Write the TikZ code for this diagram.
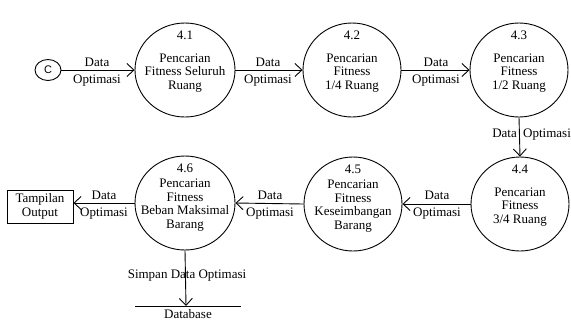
\documentclass[tikz,border=0pt]{standalone}
\usepackage{fontspec}
\setmainfont{Liberation Serif}
\setsansfont{Liberation Sans}
\usetikzlibrary{shapes.geometric,arrows.meta}
\tikzset{
  every node/.style={font=\fontsize{13bp}{13.5bp}\selectfont, inner sep=0pt},
  proc/.style={draw, ellipse, line width=0.9bp, minimum width=100bp, minimum height=94bp},
  flow/.style={line width=0.9bp, -{Straight Barb[length=7bp,width=13bp,line width=0.9bp]}},
  txt/.style={align=center},
}
\begin{document}
\begin{tikzpicture}[x=1bp,y=-1bp]
\useasboundingbox (0,0) rectangle (571,320);
% source
\node[draw, ellipse, line width=0.9bp, minimum width=26bp, minimum height=21bp, font=\sffamily\fontsize{11bp}{12bp}\selectfont] (C) at (48,70) {C};
% processes
\node[proc] (P41) at (185,70) {};
\node[proc, minimum width=98bp] (P42) at (352,70) {};
\node[proc, minimum width=98bp] (P43) at (519,70) {};
\node[proc, minimum width=98bp] (P44) at (520,204) {};
\node[proc, minimum width=98bp] (P45) at (353,204) {};
\node[proc] (P46) at (185,203) {};
% numbers
\node[anchor=base] (n41) at (185,39) {4.1};
\node[anchor=base] (n42) at (352,39) {4.2};
\node[anchor=base] (n43) at (519,39) {4.3};
\node[anchor=base] (n44) at (520,173) {4.4};
\node[anchor=base] (n45) at (353,173) {4.5};
\node[anchor=base] (n46) at (185,172) {4.6};
% texts
\node[txt] (t41) at (185,73) {Pencarian\\Fitness Seluruh\\Ruang};
\node[txt] (t42) at (352,73) {Pencarian\\Fitness\\1/4 Ruang};
\node[txt] (t43) at (519,73) {Pencarian\\Fitness\\1/2 Ruang};
\node[txt] (t44) at (520,207) {Pencarian\\Fitness\\3/4 Ruang};
\node[txt] (t45) at (353,206) {Pencarian\\Fitness\\Keseimbangan\\Barang};
\node[txt] (t46) at (185,205) {Pencarian\\Fitness\\Beban Maksimal\\Barang};
% output box
\node[draw, line width=0.9bp, minimum width=66bp, minimum height=33bp, align=center] (out) at (40,206.5) {Tampilan\\Output};
% database
\coordinate (dbl) at (135,306);
\coordinate (dbr) at (241,306);
\coordinate (dbm) at (186,306);
\draw[line width=0.9bp] (dbl) -- (dbr);
\node[anchor=base] (db) at (188,318) {Database};
% flows
\draw[flow] (C.east) -- (P41.west);
\draw[flow] (P41.east) -- (P42.west);
\draw[flow] (P42.east) -- (P43.west);
\draw[flow] (P43.south) -- (P44.north);
\draw[flow] (P44.west) -- (P45.west -| P45.east);
\draw[flow] (P45.west) -- (P46.west -| P46.east);
\draw[flow] (P46.west) -- (P46.west -| out.east);
\draw[flow] (P46.south) -- (dbm);
% flow labels
\node[anchor=base] (l1a) at (97,66) {Data};
\node[anchor=base] (l1b) at (97,83) {Optimasi};
\node[anchor=base] (l2a) at (268,66) {Data};
\node[anchor=base] (l2b) at (268,83) {Optimasi};
\node[anchor=base] (l3a) at (436,66) {Data};
\node[anchor=base] (l3b) at (436,83) {Optimasi};
\node[anchor=base east] (l4a) at (517,137) {Data};
\node[anchor=base west] (l4b) at (523,137) {Optimasi};
\node[anchor=base] (l5a) at (437,199) {Data};
\node[anchor=base] (l5b) at (437,216) {Optimasi};
\node[anchor=base] (l6a) at (270,199) {Data};
\node[anchor=base] (l6b) at (270,216) {Optimasi};
\node[anchor=base] (l7a) at (104,199) {Data};
\node[anchor=base] (l7b) at (104,216) {Optimasi};
\node[anchor=base] (l8) at (187,278) {Simpan Data Optimasi};
\end{tikzpicture}
\end{document}
